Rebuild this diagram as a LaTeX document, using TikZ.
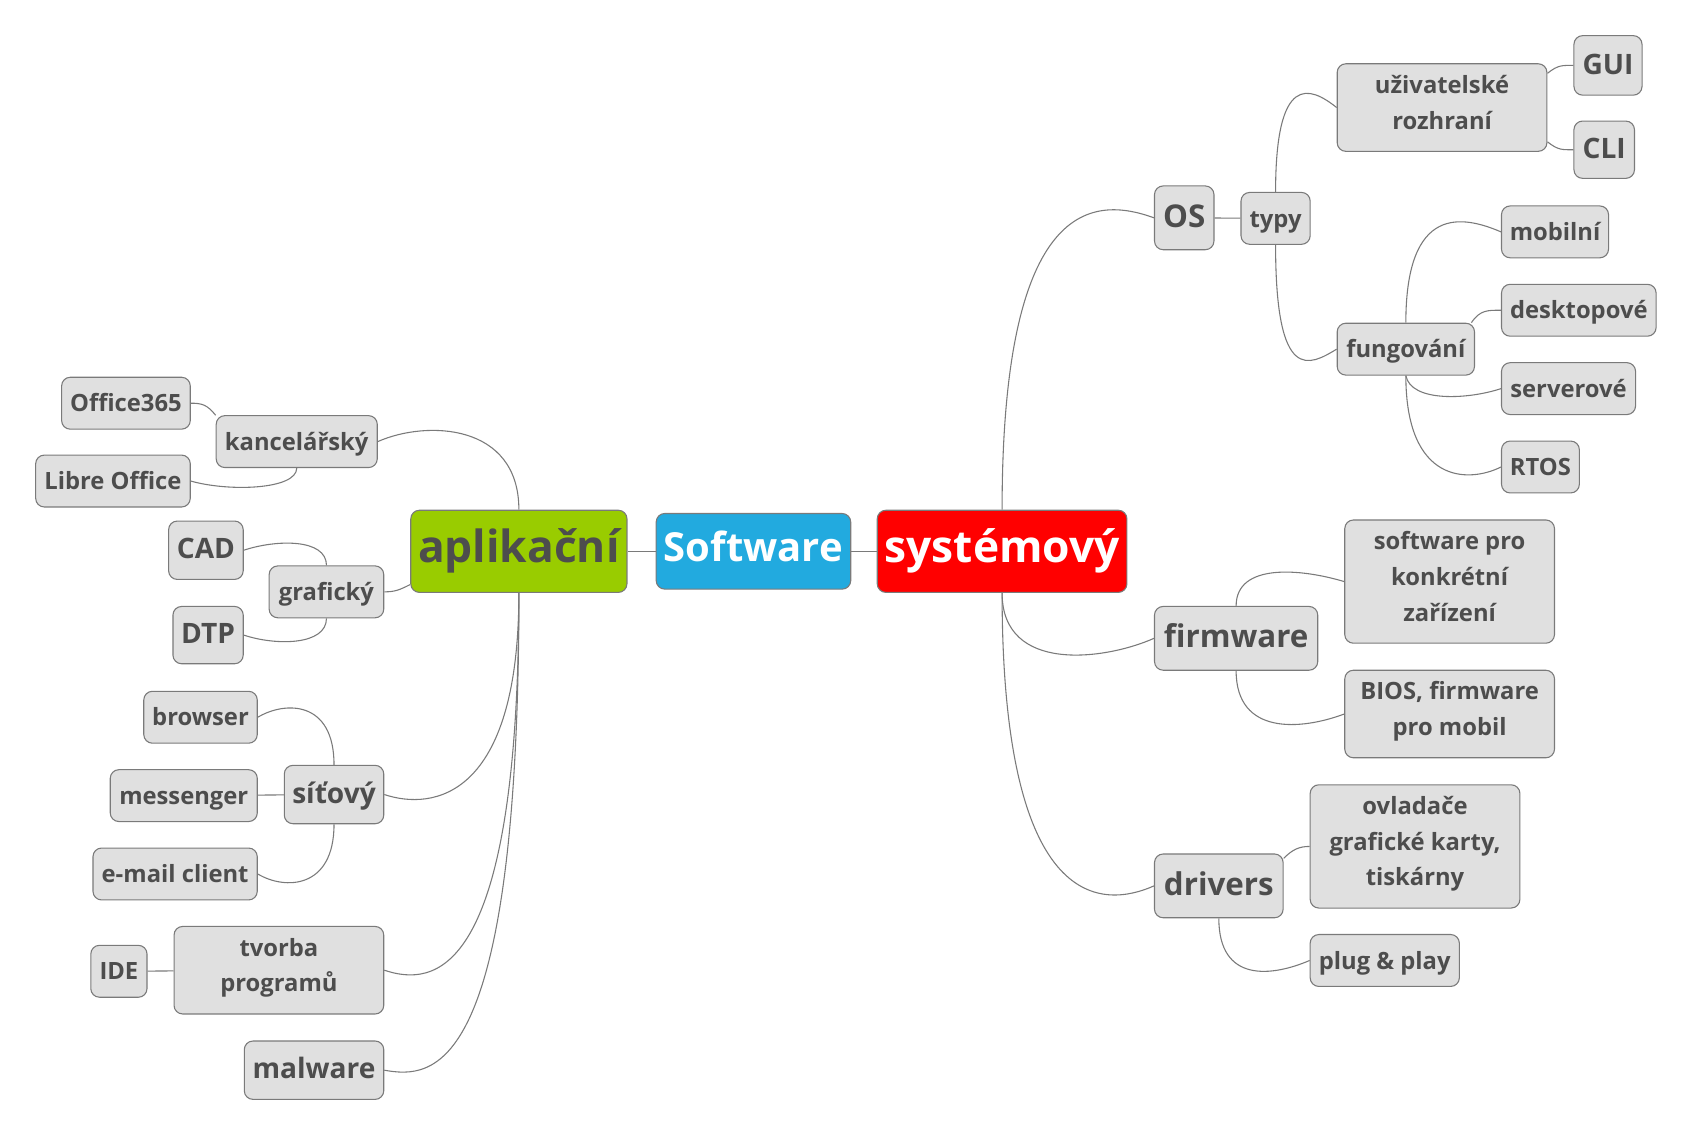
\documentclass[tikz,border=0pt]{standalone}
\usepackage{fontspec}
\setmainfont{Open Sans}
\usetikzlibrary{arrows}
\definecolor{boxGray}{HTML}{E0E0E0}
\definecolor{lineGray}{HTML}{7A7A7A}
\definecolor{textGray}{HTML}{4D4D4D}
\definecolor{swBlue}{HTML}{22AADF}
\definecolor{appGreen}{HTML}{99CC00}
\tikzstyle{baseBox} = [shape=rectangle, draw=lineGray, line width=1pt,
	rounded corners=8pt, align=center, inner xsep=6pt, inner ysep=0pt,
	execute at begin node=\strut, execute at end node=\strut]
\tikzstyle{smallBox} = [baseBox, fill=boxGray, text=textGray, minimum height=48pt,
	font=\fontsize{22}{33}\selectfont\bfseries,
	execute at begin node=\rule{0pt}{26pt}]
\tikzstyle{multiBox} = [smallBox, minimum width=194pt, minimum height=81pt,
	execute at begin node={}, execute at end node={\rule[-3pt]{0pt}{3pt}}]
\tikzstyle{midBox} = [baseBox, fill=boxGray, text=textGray, minimum height=54pt,
	font=\fontsize{26}{33}\selectfont\bfseries,
	execute at begin node=\rule{0pt}{26pt}]
\tikzstyle{MidBox} = [midBox, minimum height=59pt,
	font=\fontsize{29}{35}\selectfont\bfseries,
	execute at begin node=\rule{0pt}{27.5pt}]
\tikzstyle{mainBox} = [baseBox, minimum height=76pt,
	font=\fontsize{41}{50}\selectfont\bfseries]

\begin{document}
\begin{tikzpicture}[x=1pt, y=-1pt,
	link/.style = {draw=lineGray, line width=1pt}
  ]
  \useasboundingbox (0,0) rectangle (1568,1052);
  % centre
  \node[mainBox, fill=swBlue, text=white, minimum width=180pt, minimum height=70pt,
  	font=\fontsize{37}{46}\selectfont\bfseries] (software) at (697,510) {Software};
  \node[mainBox, fill=red, text=white, minimum width=231pt] (system) at (927,510) {systémový};
  \node[mainBox, fill=appGreen, text=textGray, minimum width=200pt] (aplik) at (480,510) {aplikační};
  \draw[link] (aplik) -- (software);
  \draw[link] (software) -- (system);

  % systemovy
  \node[MidBox, minimum width=55pt] (os) at (1095.5,201.5) {OS};
  \node[smallBox, minimum width=64pt] (typy) at (1180,202) {typy};
  \node[multiBox] (uziv) at (1334,99.5) {uživatelské\\rozhraní};
  \node[midBox, minimum width=63pt, minimum height=55pt] (gui) at (1487.5,60.5) {GUI};
  \node[midBox, minimum width=56pt, minimum height=53pt] (cli) at (1484,138.5) {CLI};
  \node[smallBox, minimum width=127pt] (fung) at (1300.5,323) {fungování};
  \node[smallBox, minimum width=99pt] (mob) at (1438.5,214.5) {mobilní};
  \node[smallBox, minimum width=143pt] (desk) at (1460.5,287) {desktopové};
  \node[smallBox, minimum width=124pt] (serv) at (1451,359.5) {serverové};
  \node[smallBox, minimum width=72pt] (rtos) at (1425,432) {RTOS};
  \node[MidBox, minimum width=151pt] (fw) at (1143.5,590.5) {firmware};
  \node[multiBox, minimum height=114pt] (swpro) at (1341,538) {software pro\\konkrétní\\zařízení};
  \node[multiBox] (bios) at (1341,660.5) {BIOS, firmware\\pro mobil};
  \node[MidBox, minimum width=119pt] (drv) at (1127.5,819.5) {drivers};
  \node[multiBox, minimum height=114pt] (ovl) at (1309,783) {ovladače\\grafické karty,\\tiskárny};
  \node[smallBox, minimum width=138pt] (plug) at (1281,888.5) {plug \& play};

  \draw[link] (system.north) .. controls +(0,-290) and +(-55,-20) .. (os.west);
  \draw[link] (system.south) .. controls +(0,75) and +(-45,20) .. (fw.west);
  \draw[link] (system.south) .. controls +(0,300) and +(-45,20) .. (drv.west);
  \draw[link] (os) -- (typy);
  \draw[link] (typy.north) .. controls +(0,-110) and +(-25,-20) .. (uziv.west);
  \draw[link] (typy.south) .. controls +(0,130) and +(-25,15) .. (fung.west);
  \draw[link] (uziv.18) .. controls +(10,-8) and +(-10,0) .. (gui.west);
  \draw[link] (uziv.-18) .. controls +(10,8) and +(-10,0) .. (cli.west);
  \draw[link] (fung.north) .. controls +(0,-110) and +(-35,-15) .. (mob.west);
  \draw[link] (fung.22) .. controls +(8,-12) and +(-12,0) .. (desk.west);
  \draw[link] (fung.south) .. controls +(5,25) and +(-30,10) .. (serv.west);
  \draw[link] (fung.south) .. controls +(0,100) and +(-30,15) .. (rtos.west);
  \draw[link] (fw.north) .. controls +(0,-40) and +(-40,-12) .. (swpro.west);
  \draw[link] (fw.south) .. controls +(0,60) and +(-40,15) .. (bios.west);
  \draw[link] (drv.23) .. controls +(8,-8) and +(-10,0) .. (ovl.west);
  \draw[link] (drv.south) .. controls +(0,60) and +(-35,15) .. (plug.west);

  % aplikacni
  \node[smallBox, minimum width=149pt] (kanc) at (274.5,408.5) {kancelářský};
  \node[smallBox, minimum width=119pt] (office) at (116.5,373) {Office365};
  \node[smallBox, minimum width=143pt] (libre) at (104.5,445) {Libre Office};
  \node[smallBox, minimum width=106pt] (graf) at (302,547.5) {grafický};
  \node[midBox, minimum width=69pt] (cad) at (190.5,509) {CAD};
  \node[midBox, minimum width=65pt, minimum height=53pt] (dtp) at (192.5,587.5) {DTP};
  \node[midBox, minimum width=92pt] (sit) at (309,735) {síťový};
  \node[smallBox, minimum width=105pt] (brow) at (185.5,663.5) {browser};
  \node[smallBox, minimum width=136pt] (mess) at (170,736) {messenger};
  \node[smallBox, minimum width=152pt] (email) at (162,808.5) {e-mail client};
  \node[multiBox] (tvorba) at (258,897.5) {tvorba\\programů};
  \node[smallBox, minimum width=52pt] (ide) at (110,898.5) {IDE};
  \node[midBox, minimum width=129pt] (mal) at (290.5,990) {malware};

  \draw[link] (aplik.north) .. controls +(0,-80) and +(45,-20) .. (kanc.east);
  \draw[link] (aplik.197) .. controls +(-10,5) and +(10,0) .. (graf.east);
  \draw[link] (aplik.south) .. controls +(0,190) and +(45,15) .. (sit.east);
  \draw[link] (aplik.south) .. controls +(0,360) and +(45,15) .. (tvorba.east);
  \draw[link] (aplik.south) .. controls +(0,450) and +(45,8) .. (mal.east);
  \draw[link] (kanc.162) .. controls +(-8,-10) and +(10,0) .. (office.east);
  \draw[link] (kanc.south) .. controls +(0,20) and +(35,10) .. (libre.east);
  \draw[link] (graf.north) .. controls +(0,-25) and +(30,-10) .. (cad.east);
  \draw[link] (graf.south) .. controls +(0,25) and +(30,10) .. (dtp.east);
  \draw[link] (sit.north) .. controls +(0,-60) and +(25,-15) .. (brow.east);
  \draw[link] (sit) -- (mess);
  \draw[link] (sit.south) .. controls +(0,60) and +(25,15) .. (email.east);
  \draw[link] (tvorba) -- (ide);
\end{tikzpicture}
\end{document}
